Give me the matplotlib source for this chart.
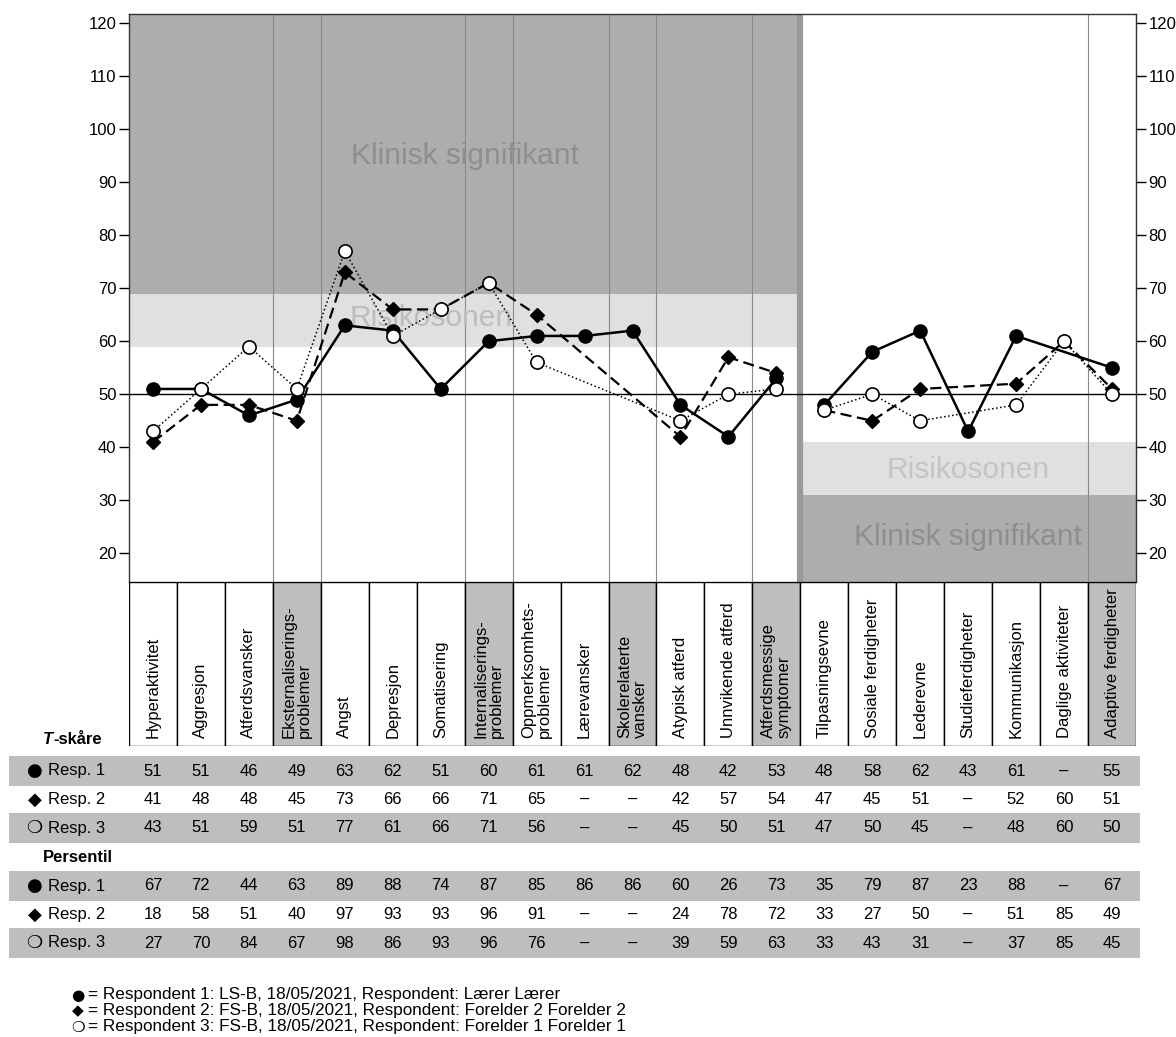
import numpy as np
import matplotlib
matplotlib.use("Agg")
import matplotlib.pyplot as plt
from matplotlib.patches import Rectangle

plt.rcParams['font.family'] = ['Liberation Sans', 'DejaVu Sans']

# scales (columns), left panel = problem scales, right panel = adaptive scales
scales = ["Hyperaktivitet", "Aggresjon", "Atferdsvansker", "Eksternaliserings-\nproblemer",
          "Angst", "Depresjon", "Somatisering", "Internaliserings-\nproblemer",
          "Oppmerksomhets-\nproblemer", "Lærevansker", "Skolerelaterte\nvansker",
          "Atypisk atferd", "Unnvikende atferd", "Atferdsmessige\nsymptomer",
          "Tilpasningsevne", "Sosiale ferdigheter", "Lederevne", "Studieferdigheter",
          "Kommunikasjon", "Daglige aktiviteter", "Adaptive ferdigheter"]
composite = [3, 7, 10, 13, 20]
n_left = 14

nan = np.nan
t_resp1 = [51, 51, 46, 49, 63, 62, 51, 60, 61, 61, 62, 48, 42, 53, 48, 58, 62, 43, 61, nan, 55]
t_resp2 = [41, 48, 48, 45, 73, 66, 66, 71, 65, nan, nan, 42, 57, 54, 47, 45, 51, nan, 52, 60, 51]
t_resp3 = [43, 51, 59, 51, 77, 61, 66, 71, 56, nan, nan, 45, 50, 51, 47, 50, 45, nan, 48, 60, 50]

p_resp1 = [67, 72, 44, 63, 89, 88, 74, 87, 85, 86, 86, 60, 26, 73, 35, 79, 87, 23, 88, nan, 67]
p_resp2 = [18, 58, 51, 40, 97, 93, 93, 96, 91, nan, nan, 24, 78, 72, 33, 27, 50, nan, 51, 85, 49]
p_resp3 = [27, 70, 84, 67, 98, 86, 93, 96, 76, nan, nan, 39, 59, 63, 33, 43, 31, nan, 37, 85, 45]

resp_symbols = ["\u25CF", "\u25C6", "\u274D"]
resp_names = ["Resp. 1", "Resp. 2", "Resp. 3"]
legend_text = ["Respondent 1: LS-B, 18/05/2021, Respondent: Lærer Lærer",
               "Respondent 2: FS-B, 18/05/2021, Respondent: Forelder 2 Forelder 2",
               "Respondent 3: FS-B, 18/05/2021, Respondent: Forelder 1 Forelder 1"]

W, H = 1176, 1037
fig = plt.figure(figsize=(W / 100, H / 100), dpi=100)


def px_axes(x0, y0, x1, y1):
    return fig.add_axes([x0 / W, 1 - y1 / H, (x1 - x0) / W, (y1 - y0) / H])


DARK = '#adadad'
LIGHT = '#e0e0e0'
CELL = '#bebebe'
FS = 12
n = len(scales)
x = np.arange(n)

# ---- main chart
ax = px_axes(129, 13.5, 1136, 582)
ax.set_xlim(-0.5, n - 0.5)
ax.set_ylim(14.6, 121.8)

xl = [-0.5, n_left - 0.5]
xr = [n_left - 0.5, n - 0.5]
ax.fill_between(xl, 69, 130, color=DARK, lw=0, zorder=0)
ax.fill_between(xl, 59, 69, color=LIGHT, lw=0, zorder=0)
ax.fill_between(xr, 31, 41, color=LIGHT, lw=0, zorder=0)
ax.fill_between(xr, 0, 31, color=DARK, lw=0, zorder=0)

for c in composite:
    ax.axvline(c - 0.5, color='#8a8a8a', lw=0.8, zorder=1)
    ax.axvline(c + 0.5, color='#8a8a8a', lw=0.8, zorder=1)
ax.axvline(n_left - 0.5, color='#9a9a9a', lw=4.5, zorder=1)
ax.axhline(50, color='black', lw=1, zorder=2)

ax.text(6.5, 95, "Klinisk signifikant", fontsize=21.5, color='#8e8e8e', ha='center', va='center', zorder=1.5)
ax.text(5.8, 64.4, "Risikosonen", fontsize=21.5, color='#bcbcbc', ha='center', va='center', zorder=1.5)
ax.text(17.0, 35.7, "Risikosonen", fontsize=21.5, color='#c4c4c4', ha='center', va='center', zorder=1.5)
ax.text(17.0, 23.1, "Klinisk signifikant", fontsize=21.5, color='#8e8e8e', ha='center', va='center', zorder=1.5)

styles = [
    (t_resp2, dict(ls=(0, (5, 2.5)), lw=1.6, marker='D', ms=7, mfc='black', mec='black'), 3),
    (t_resp1, dict(ls='-', lw=1.8, marker='o', ms=9.5, mfc='black', mec='black'), 4),
    (t_resp3, dict(ls=':', lw=1.1, marker='o', ms=9.5, mfc='white', mec='black', mew=1.2), 5),
]
for vals, kw, z in styles:
    v = np.array(vals, dtype=float)
    for lo, hi in [(0, n_left), (n_left, n)]:
        xs = x[lo:hi]
        vs = v[lo:hi]
        ok = ~np.isnan(vs)
        ax.plot(xs[ok], vs[ok], color='black', zorder=z, **kw)

ax.set_xticks([])
ax.set_yticks(np.arange(20, 121, 10))
ax.tick_params(axis='y', direction='out', length=7, width=1, labelsize=FS,
               left=True, right=True, labelleft=True, labelright=True, pad=2)
for s in ax.spines.values():
    s.set_color('#333333')
    s.set_linewidth(1)

# ---- scale name header
axh = px_axes(129, 582, 1136, 746)
axh.set_xlim(-0.5, n - 0.5)
axh.set_ylim(0, 1)
axh.axis('off')
for i, name in enumerate(scales):
    fc = CELL if i in composite else 'white'
    axh.add_patch(Rectangle((i - 0.5, 0), 1, 1, facecolor=fc, edgecolor='black', lw=1))
    axh.text(i, 0.05, name, rotation=90, ha='center', va='bottom', multialignment='left',
             fontsize=FS, linespacing=1.0)

# ---- score table
axt = px_axes(129, 746, 1136, 1037)
axt.set_xlim(-0.5, n - 0.5)
axt.set_ylim(1037, 746)
axt.axis('off')

t_rows = [771, 799.5, 828]
p_rows = [886, 914.5, 943]
band_x0, band_x1 = -3.0, 20.58
sym_x, name_x, head_x = -2.47, -2.19, -2.29

t_lab = axt.text(head_x, 739, "T", fontsize=FS, fontweight='bold', fontstyle='italic',
                 ha='left', va='center', clip_on=False)
axt.annotate("-skåre", xy=(1, 0), xycoords=t_lab, ha='left', va='bottom',
             fontsize=FS, fontweight='bold', annotation_clip=False)
axt.text(head_x, 858, "Persentil", fontsize=FS, fontweight='bold', ha='left', va='center', clip_on=False)

for rows, data in [(t_rows, [t_resp1, t_resp2, t_resp3]), (p_rows, [p_resp1, p_resp2, p_resp3])]:
    for k, (y, vals) in enumerate(zip(rows, data)):
        if k != 1:
            axt.add_patch(Rectangle((band_x0, y - 15), band_x1 - band_x0, 30, facecolor=CELL,
                                    lw=0, clip_on=False, zorder=0))
        axt.text(sym_x, y, resp_symbols[k], fontsize=13, family='DejaVu Sans',
                 ha='center', va='center', clip_on=False)
        axt.text(name_x, y, resp_names[k], fontsize=FS, ha='left', va='center', clip_on=False)
        for i, v in enumerate(vals):
            s = "\u2013" if np.isnan(v) else str(int(v))
            axt.text(i, y, s, fontsize=FS, ha='center', va='center')

# respondent legend under the table
for j, line in enumerate(legend_text):
    yy = 1 - (995 + 16 * j) / H
    fig.text(78 / W, yy, resp_symbols[j], fontsize=11, family='DejaVu Sans', ha='center', va='center')
    fig.text(88 / W, yy, "= " + line, fontsize=12.3, ha='left', va='center')

fig.savefig("out.png", dpi=100)
